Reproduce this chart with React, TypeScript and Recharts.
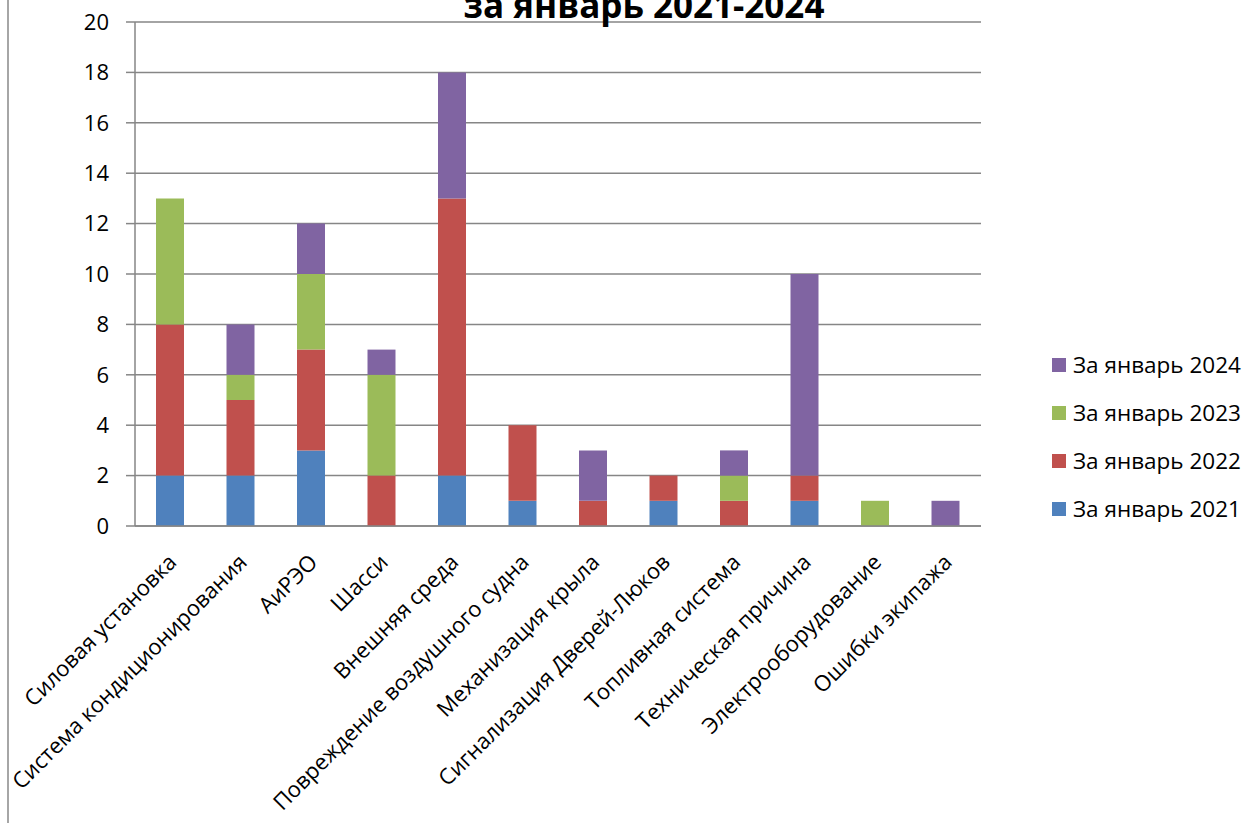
import React from "react";
import { BarChart, Bar, XAxis, YAxis, CartesianGrid } from "recharts";

const categories = [
  "Силовая установка",
  "Система кондиционирования",
  "АиРЭО",
  "Шасси",
  "Внешняя среда",
  "Повреждение воздушного судна",
  "Механизация крыла",
  "Сигнализация Дверей-Люков",
  "Топливная система",
  "Техническая причина",
  "Электрооборудование",
  "Ошибки экипажа",
];
const jan2021 = [2, 2, 3, 0, 2, 1, 0, 1, 0, 1, 0, 0];
const jan2022 = [6, 3, 4, 2, 11, 3, 1, 1, 1, 1, 0, 0];
const jan2023 = [5, 1, 3, 4, 0, 0, 0, 0, 1, 0, 1, 0];
const jan2024 = [0, 2, 2, 1, 5, 0, 2, 0, 1, 8, 0, 1];
const yTicks = [0, 2, 4, 6, 8, 10, 12, 14, 16, 18, 20];
const seriesNames = ["За январь 2021", "За январь 2022", "За январь 2023", "За январь 2024"];
const title = "за январь 2021-2024";

const colors = ["#4F81BD", "#C0504D", "#9BBB59", "#8064A2"];
const FONT = "'Open Sans', 'Noto Sans', sans-serif";

const data = categories.map((c, i) => ({
  name: c,
  s2021: jan2021[i],
  s2022: jan2022[i],
  s2023: jan2023[i],
  s2024: jan2024[i],
}));

const XTick = (props: any) => {
  const { x, y, payload } = props;
  return (
    <g transform={`translate(${x - 6},${y + 16})`}>
      <text
        x={0}
        y={0}
        textAnchor="end"
        dominantBaseline="hanging"
        transform="rotate(-45)"
        fontSize={22}
        fontFamily={FONT}
        fill="#000"
      >
        {payload.value}
      </text>
    </g>
  );
};

export default function App() {
  const legendItems = [3, 2, 1, 0];
  return (
    <div style={{ position: "absolute", left: 0, top: 0, width: 1257, height: 823, background: "#fff" }}>
      <BarChart
        width={1257}
        height={823}
        data={data}
        margin={{ top: 22, right: 276, left: 0, bottom: 0 }}
        barSize={28}
      >
        <CartesianGrid vertical={false} stroke="#868686" strokeWidth={1.5} />
        <XAxis
          dataKey="name"
          interval={0}
          tick={<XTick />}
          tickLine={false}
          axisLine={{ stroke: "#868686", strokeWidth: 1.5 }}
          height={297}
        />
        <YAxis
          width={135}
          domain={[0, 20]}
          ticks={yTicks}
          interval={0}
          tickSize={9}
          tickMargin={17}
          tickLine={{ stroke: "#868686", strokeWidth: 1.5 }}
          axisLine={{ stroke: "#868686", strokeWidth: 1.5 }}
          tick={{ fontSize: 22, fontFamily: FONT, fill: "#000" }}
        />
        <Bar dataKey="s2021" name={seriesNames[0]} stackId="a" fill={colors[0]} isAnimationActive={false} />
        <Bar dataKey="s2022" name={seriesNames[1]} stackId="a" fill={colors[1]} isAnimationActive={false} />
        <Bar dataKey="s2023" name={seriesNames[2]} stackId="a" fill={colors[2]} isAnimationActive={false} />
        <Bar dataKey="s2024" name={seriesNames[3]} stackId="a" fill={colors[3]} isAnimationActive={false} />
        <line x1={8} y1={0} x2={8} y2={823} stroke="#A6A6A6" strokeWidth={2} />
        <text x={644} y={18} textAnchor="middle" fontSize={35} fontWeight="bold" fontFamily={FONT} fill="#000">
          {title}
        </text>
        {legendItems.map((si, k) => (
          <g key={si}>
            <rect x={1052} y={358 + k * 48} width={14} height={14} fill={colors[si]} />
            <text x={1073} y={373 + k * 48} fontSize={22.5} fontFamily={FONT} fill="#000">
              {seriesNames[si]}
            </text>
          </g>
        ))}
      </BarChart>
    </div>
  );
}
